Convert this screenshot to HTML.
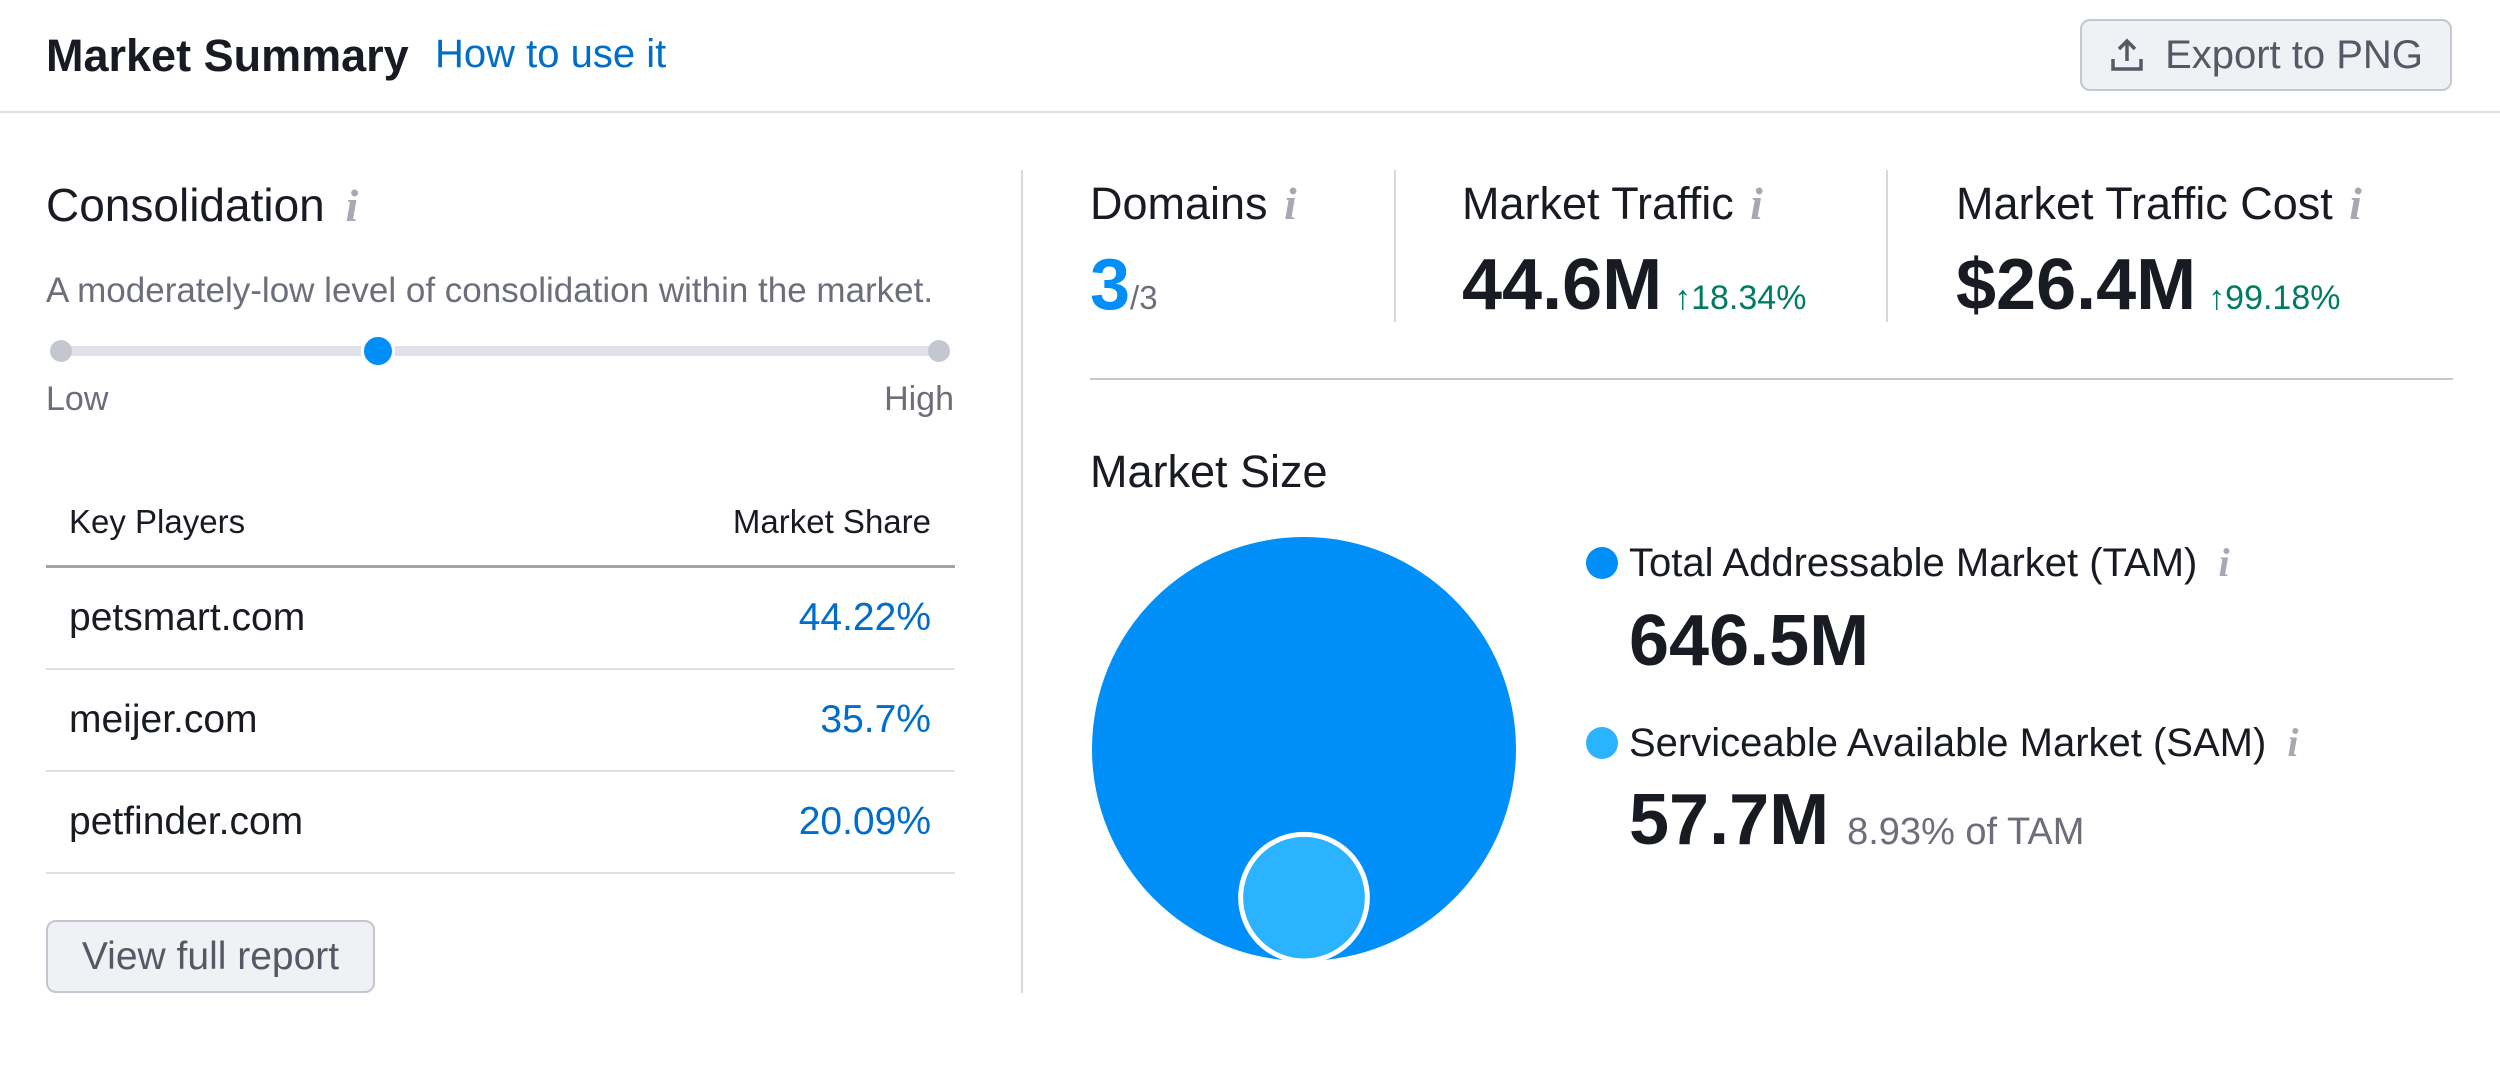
<!DOCTYPE html>
<html><head><meta charset="utf-8"><style>
*{box-sizing:border-box;margin:0;padding:0}
body{width:2500px;height:1090px;background:#fff;font-family:"Liberation Sans",sans-serif;color:#191b23;position:relative;overflow:hidden}
.a{position:absolute;white-space:nowrap}
.i{color:#a6a8b3;font-style:italic;font-family:"Liberation Serif",serif;font-weight:bold}
.vl{position:absolute;width:2px;background:#d6d8de}
.hl{position:absolute;height:2px;background:#e0e1e6}
</style></head><body>
<div class="a" style="left:46px;top:30px;font-size:45px;font-weight:bold;">Market Summary</div>
<div class="a" style="left:435px;top:32px;font-size:40px;color:#006dca;">How to use it</div>
<div class="a" style="left:2080px;top:19px;width:372px;height:72px;border:2px solid #c4c7cf;border-radius:10px;background:#f0f1f4;font-size:40px;color:#555865;display:flex;align-items:center;justify-content:center;gap:20px">
<svg width="36" height="36" viewBox="0 0 36 36"><path d="M18 24V4M10 12l8-8 8 8M4 22v10h28V22" fill="none" stroke="#555865" stroke-width="3.5"/></svg>Export to PNG</div>
<div class="hl" style="left:0;top:111px;width:2500px"></div>

<div class="a" style="left:46px;top:178px;font-size:46px">Consolidation <span class="i" style="margin-left:8px">i</span></div>
<div class="a" style="left:46px;top:271px;font-size:35px;color:#6c6e79">A moderately-low level of consolidation within the market.</div>
<div class="a" style="left:61px;top:346px;width:878px;height:10px;background:#e0e1e9;border-radius:5px"></div>
<div class="a" style="left:50px;top:340px;width:22px;height:22px;border-radius:50%;background:#c4c7cf"></div>
<div class="a" style="left:928px;top:340px;width:22px;height:22px;border-radius:50%;background:#c4c7cf"></div>
<div class="a" style="left:361px;top:334px;width:34px;height:34px;border-radius:50%;background:#008ff8;border:3px solid #fff"></div>
<div class="a" style="left:46px;top:380px;font-size:34px;color:#6c6e79">Low</div>
<div class="a" style="left:853px;width:101px;text-align:right;top:380px;font-size:34px;color:#6c6e79">High</div>

<div class="a" style="left:69px;top:503px;font-size:33px">Key Players</div>
<div class="a" style="left:705px;width:226px;text-align:right;top:503px;font-size:33px">Market Share</div>
<div class="a" style="left:46px;top:565px;width:909px;height:3px;background:#a0a3ad"></div>
<div id="rows"></div>
<div class="a" style="left:46px;top:920px;width:329px;height:73px;border:2px solid #c4c7cf;border-radius:10px;background:#f0f1f4;font-size:39px;color:#555865;display:flex;align-items:center;justify-content:center">View full report</div>

<div class="vl" style="left:1021px;top:170px;height:823px"></div>
<div class="a" style="left:1090px;top:178px;font-size:45px">Domains <span class="i" style="margin-left:4px">i</span></div>
<div class="a" style="left:1090px;top:244px;font-size:72px;font-weight:bold;color:#008ff8">3<span style="font-size:33px;font-weight:normal;color:#6c6e79">/3</span></div>
<div class="vl" style="left:1394px;top:170px;height:152px"></div>
<div class="a" style="left:1462px;top:178px;font-size:45px">Market Traffic <span class="i" style="margin-left:4px">i</span></div>
<div class="a" style="left:1462px;top:244px;font-size:72px;font-weight:bold">44.6M<span style="font-size:34px;font-weight:normal;color:#007c65;margin-left:12px">↑18.34%</span></div>
<div class="vl" style="left:1886px;top:170px;height:152px"></div>
<div class="a" style="left:1956px;top:178px;font-size:45px">Market Traffic Cost <span class="i" style="margin-left:4px">i</span></div>
<div class="a" style="left:1956px;top:244px;font-size:72px;font-weight:bold">$26.4M<span style="font-size:34px;font-weight:normal;color:#007c65;margin-left:12px">↑99.18%</span></div>
<div class="hl" style="left:1090px;top:378px;width:1363px;background:#c4c7cf"></div>

<div class="a" style="left:1090px;top:446px;font-size:45px">Market Size</div>
<svg class="a" id="bubbles" style="left:1060px;top:500px" width="500" height="480"></svg>
<div class="a" style="left:1586px;top:547px;width:32px;height:32px;border-radius:50%;background:#008ff8"></div>
<div class="a" style="left:1629px;top:539px;font-size:40px">Total Addressable Market (TAM) <span class="i" style="margin-left:10px">i</span></div>
<div class="a" style="left:1629px;top:600px;font-size:72px;font-weight:bold" id="tamv"></div>
<div class="a" style="left:1586px;top:727px;width:32px;height:32px;border-radius:50%;background:#2bb3ff"></div>
<div class="a" style="left:1629px;top:719px;font-size:40px">Serviceable Available Market (SAM) <span class="i" style="margin-left:10px">i</span></div>
<div class="a" style="left:1629px;top:779px;font-size:72px;font-weight:bold"><span id="samv"></span><span style="font-size:38px;font-weight:normal;color:#6c6e79;margin-left:18px">8.93% of TAM</span></div>
<script>
const players=["petsmart.com","meijer.com","petfinder.com"];
const shares=["44.22%","35.7%","20.09%"];
const marketLabels=["TAM","SAM"];
const marketValues=[646.5,57.7];
const rows=document.getElementById('rows');
players.forEach((p,k)=>{
 const y=568+k*102;
 const r=document.createElement('div');
 r.className='a';
 
 
 r.style.cssText=`left:46px;top:${y}px;width:909px;height:102px;border-bottom:2px solid #e0e1e6`;
 r.innerHTML=`<span style="position:absolute;left:23px;top:28px;font-size:39px">${p}</span><span style="position:absolute;right:24px;top:28px;font-size:39px;color:#006dca">${shares[k]}</span>`;
 rows.appendChild(r);
});
document.getElementById('tamv').textContent=marketValues[0]+'M';
document.getElementById('samv').textContent=marketValues[1]+'M';
const svg=document.getElementById('bubbles'),NS='http://www.w3.org/2000/svg';
const R=212,cx=244,bottom=461;
const rad=v=>R*Math.sqrt(v/marketValues[0]);
const cols=['#008ff8','#2bb3ff'];
marketValues.forEach((v,k)=>{
 const c=document.createElementNS(NS,'circle');
 const r=rad(v);
 c.setAttribute('cx',cx);c.setAttribute('cy',bottom-r);c.setAttribute('r',r);
 c.setAttribute('fill',cols[k]);
 if(k>0){c.setAttribute('stroke','#fff');c.setAttribute('stroke-width',5);}
 
 
 svg.appendChild(c);
});
</script>
</body></html>
